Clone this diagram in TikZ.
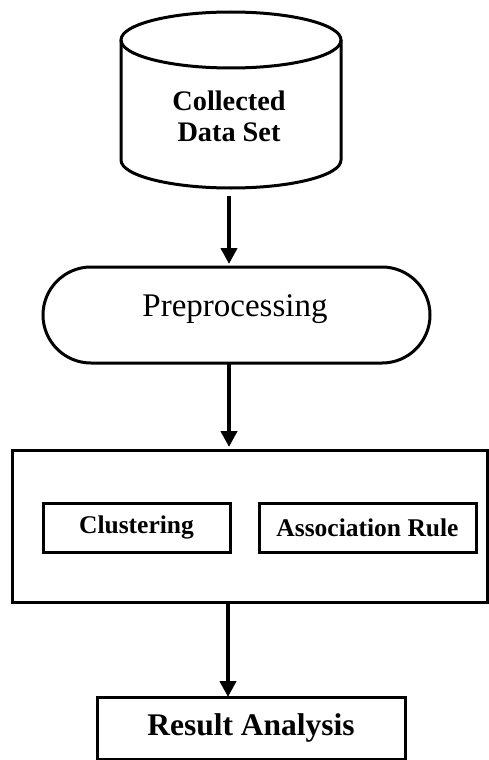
\documentclass[tikz,border=0pt]{standalone}
\usepackage{fontspec}
\setmainfont{Liberation Serif}
\usetikzlibrary{arrows.meta}
\begin{document}
\begin{tikzpicture}[x=1pt,y=-1pt,
  outline/.style={line width=3pt,draw=black},
  flowarrow/.style={line width=4pt,-{Triangle[width=16pt,length=16pt]}},
  boxlabel/.style={font=\fontsize{25.5}{28}\selectfont\bfseries},
  cylsides/.style={line width=3pt}]
\useasboundingbox (0,0) rectangle (489,760);
% cylinder
\draw[cylsides] (231,40) ellipse [x radius=110, y radius=28];
\draw[cylsides] (121,40) -- (121,160) arc[start angle=180,end angle=360,x radius=110,y radius=-28] -- (341,40);
\node[align=center,font=\fontsize{28.3}{31}\selectfont\bfseries] (data) at (229,116) {Collected\\Data Set};
\coordinate (cylbot) at (229,196);
% preprocessing
\node[outline,rounded corners=48pt,minimum width=387pt,minimum height=96pt,
  font=\fontsize{33}{36}\selectfont] (pre) at (236.5,315) {};
\node[font=\fontsize{33}{36}\selectfont] (pretext) at (235,309) {Preprocessing};
% mining box
\node[outline,minimum width=475pt,minimum height=152pt] (mine) at (249.5,526) {};
\node[outline,minimum width=187pt,minimum height=49pt,boxlabel] (clu) at (136.5,527.5) {Clustering};
\node[outline,minimum width=217pt,minimum height=49pt,boxlabel] (asr) at (367.5,527.5) {Association Rule};
% result
\node[outline,minimum width=308pt,minimum height=62pt,
  font=\fontsize{31.5}{34}\selectfont\bfseries] (res) at (251,728) {Result Analysis};
% arrows
\draw[flowarrow] (cylbot) -- (229,264);
\draw[flowarrow] (229,363) -- (229,447);
\draw[flowarrow] (228,602) -- (228,697);
\end{tikzpicture}
\end{document}
